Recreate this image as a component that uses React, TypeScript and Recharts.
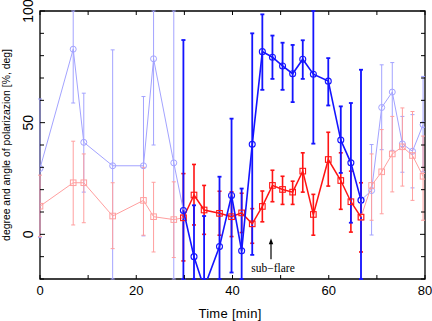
import { ErrorBar, ReferenceArea, ReferenceLine, Scatter, ScatterChart, XAxis, YAxis } from "recharts";

// time of each measurement [min]
const times = [
  0, 6.9, 9.1, 15.1, 21.5, 23.6, 27.8, 29.8, 32.0, 34.1, 37.3, 39.8, 41.9, 44.1, 46.2,
  48.3, 50.4, 52.5, 54.6, 56.8, 59.9, 62.5, 64.6, 66.7, 68.9, 71.0, 73.2, 75.3, 77.4, 79.6,
];

// angle of polarization (blue) [deg]
const blueValues = [
  29.5, 82.9, 41.2, 30.7, 30.7, 78.6, 32, 10.7, -10, -24, -5.5, 17.4, -7.4, 40.3, 81.8,
  79.3, 75.4, 71.9, 78.4, 71.7, 68.6, 42.2, 32, 15.3, 19.6, 56.8, 63.7, 40.5, 37.2, 49.1,
];
const blueLow = [
  -1.5, 58.8, 18.9, -30, -0.7, 40, -30, -30, -30, -30, -30, -17.1, -30, -9.2, 64.7,
  69.6, 64.7, 59.2, 69.6, 40.6, 57.7, 27.5, 5.2, -30, -0.3, 37.9, 37.6, 27.8, 20.8, 28,
];
const blueHigh = [
  60.6, 110, 63.2, 82.6, 61.7, 110, 110, 87, 13, 8.2, 25.8, 51.8, 20.5, 90, 98.5,
  89, 85.8, 84.8, 86.9, 110, 78.9, 57.3, 58.8, 73.7, 40.2, 75.9, 76.9, 52.8, 53.6, 70.7,
];

// degree of polarization (red) [%]
const redValues = [
  12.6, 23.1, 23.1, 8.2, 15.2, 7.9, 6.6, 7.4, 17.6, 10.9, 9.4, 7.9, 9.6, 4.7, 12.5,
  21.9, 20.1, 18.9, 28.3, 8.9, 33.5, 24.1, 14.6, 7.7, 21.9, 28, 36, 39.2, 35.3, 26,
];
const redLow = [
  -1, 4.2, 5.2, -6.4, -0.4, -7.9, -10.4, -11.9, 4.2, 0, -0.4, -1, 0.8, -4, 5.6,
  14.6, 13.4, 13.4, 18.9, -0.4, 21.6, 11.2, 1, -7.9, 6.3, 9.2, 19, 21.6, 15.2, 6.3,
];
const redHigh = [
  26.5, 41.7, 36, 23.1, 30, 23.3, 23.5, 27.2, 31.3, 21.9, 19.3, 19, 18.4, 11.5, 19.4,
  28.7, 26, 23.8, 36.5, 17.9, 45.7, 36.5, 28.3, 23.1, 36, 46.9, 52.8, 56.6, 55, 44,
];

// first and last index of the highlighted interval
const darkFrom = 7;
const darkTo = 23;

const xTicks = [0, 10, 20, 30, 40, 50, 60, 70, 80];
const yTicks = [-20, -10, 0, 10, 20, 30, 40, 50, 60, 70, 80, 90, 100];
const Y_MIN = -20;
const Y_MAX = 100;

const flareTime = 48;
const flareArrow = [-11.2, -1.8];

const PLOT_W = 385;
const PLOT_H = 268;
const FONT = "'Liberation Sans', Arial, sans-serif";

const BLUE = "#1414ff";
const LIGHT_BLUE = "#a3a3ff";
const RED = "#ff1414";
const LIGHT_RED = "#ff9f9f";

interface Pt {
  t: number;
  v: number;
  err: [number, number];
}

// error bars are cut at the frame, like the plot itself
function build(values: number[], low: number[], high: number[], from: number, to: number): Pt[] {
  const out: Pt[] = [];
  for (let i = from; i <= to; i++) {
    const lo = Math.max(low[i], Y_MIN);
    const hi = Math.min(high[i], Y_MAX);
    out.push({ t: times[i], v: values[i], err: [values[i] - lo, hi - values[i]] });
  }
  return out;
}

const last = times.length - 1;
const blueLeft = build(blueValues, blueLow, blueHigh, 0, darkFrom);
const blueMid = build(blueValues, blueLow, blueHigh, darkFrom, darkTo);
const blueRight = build(blueValues, blueLow, blueHigh, darkTo, last);
const redLeft = build(redValues, redLow, redHigh, 0, darkFrom);
const redMid = build(redValues, redLow, redHigh, darkFrom, darkTo);
const redRight = build(redValues, redLow, redHigh, darkTo, last);

const circle = (color: string, sw: number) => (p: any) => (
  <circle cx={p.cx} cy={p.cy} r={3} fill="none" stroke={color} strokeWidth={sw} />
);
const square = (color: string, sw: number) => (p: any) => (
  <rect x={p.cx - 2.8} y={p.cy - 2.8} width={5.6} height={5.6} fill="none" stroke={color} strokeWidth={sw} />
);

function XTick({ x, y, payload }: any) {
  const v = payload.value as number;
  return (
    <g>
      <line x1={x} y1={y} x2={x} y2={y - 4} stroke="#000" />
      <line x1={x} y1={y - PLOT_H} x2={x} y2={y - PLOT_H + 4} stroke="#000" />
      {v % 20 === 0 && (
        <text x={x} y={y + 15.5} textAnchor="middle" fontSize={13} fontFamily={FONT} fill="#000">
          {v}
        </text>
      )}
    </g>
  );
}

function YTick({ x, y, payload }: any) {
  const v = payload.value as number;
  const major = v % 50 === 0;
  const len = major ? 5 : 4;
  return (
    <g>
      <line x1={x} y1={y} x2={x + len} y2={y} stroke="#000" />
      <line x1={x + PLOT_W} y1={y} x2={x + PLOT_W - len} y2={y} stroke="#000" />
      {major && (
        <text
          x={x - 7}
          y={y}
          transform={`rotate(-90 ${x - 7} ${y})`}
          textAnchor="middle"
          fontSize={14}
          fontFamily={FONT}
          fill="#000"
        >
          {v}
        </text>
      )}
    </g>
  );
}

function FlareArrow(p: any) {
  const { x1, y1, x2, y2 } = p;
  return (
    <g>
      <line x1={x1} y1={y1} x2={x2} y2={y2 + 5} stroke="#000" strokeWidth={1.2} />
      <polygon points={`${x2},${y2} ${x2 - 2.2},${y2 + 6} ${x2 + 2.2},${y2 + 6}`} fill="#000" />
      <text
        x={x1 + 2}
        y={y1 + 13}
        textAnchor="middle"
        fontSize={11.5}
        fontFamily="'Liberation Serif', 'Times New Roman', serif"
        fill="#000"
      >
        sub−flare
      </text>
    </g>
  );
}

export default function App() {
  return (
    <div style={{ position: "absolute", left: 0, top: 0, background: "#fff" }}>
      <ScatterChart width={432} height={321} margin={{ top: 11, right: 7, bottom: 0, left: 0 }}>
        <XAxis
          type="number"
          dataKey="t"
          domain={[0, 80]}
          ticks={xTicks}
          interval={0}
          tickSize={0}
          tickMargin={0}
          tickLine={false}
          axisLine={false}
          tick={<XTick />}
          height={42}
          allowDataOverflow
        />
        <YAxis
          type="number"
          dataKey="v"
          domain={[Y_MIN, Y_MAX]}
          ticks={yTicks}
          interval={0}
          tickSize={0}
          tickMargin={0}
          tickLine={false}
          axisLine={false}
          tick={<YTick />}
          width={40}
          allowDataOverflow
        />
        <ReferenceArea x1={0} x2={80} y1={Y_MIN} y2={Y_MAX} fill="none" stroke="#000" strokeWidth={1.3} />

        <Scatter data={blueLeft} line={{ stroke: LIGHT_BLUE, strokeWidth: 1 }} shape={circle(LIGHT_BLUE, 1)} isAnimationActive={false}>
          <ErrorBar dataKey="err" direction="y" width={2} stroke={LIGHT_BLUE} strokeWidth={1} />
        </Scatter>
        <Scatter data={blueRight} line={{ stroke: LIGHT_BLUE, strokeWidth: 1 }} shape={circle(LIGHT_BLUE, 1)} isAnimationActive={false}>
          <ErrorBar dataKey="err" direction="y" width={2} stroke={LIGHT_BLUE} strokeWidth={1} />
        </Scatter>
        <Scatter data={redLeft} line={{ stroke: LIGHT_RED, strokeWidth: 1 }} shape={square(LIGHT_RED, 1)} isAnimationActive={false}>
          <ErrorBar dataKey="err" direction="y" width={2} stroke={LIGHT_RED} strokeWidth={1} />
        </Scatter>
        <Scatter data={redRight} line={{ stroke: LIGHT_RED, strokeWidth: 1 }} shape={square(LIGHT_RED, 1)} isAnimationActive={false}>
          <ErrorBar dataKey="err" direction="y" width={2} stroke={LIGHT_RED} strokeWidth={1} />
        </Scatter>
        <Scatter data={redMid} line={{ stroke: RED, strokeWidth: 1.5 }} shape={square(RED, 1.1)} isAnimationActive={false}>
          <ErrorBar dataKey="err" direction="y" width={2} stroke={RED} strokeWidth={1.6} />
        </Scatter>
        <Scatter data={blueMid} line={{ stroke: BLUE, strokeWidth: 1.6 }} shape={circle(BLUE, 1.1)} isAnimationActive={false}>
          <ErrorBar dataKey="err" direction="y" width={2} stroke={BLUE} strokeWidth={1.8} />
        </Scatter>

        <ReferenceLine
          segment={[
            { x: flareTime, y: flareArrow[0] },
            { x: flareTime, y: flareArrow[1] },
          ]}
          shape={FlareArrow}
        />
      </ScatterChart>
      <svg width={432} height={321} style={{ position: "absolute", left: 0, top: 0, pointerEvents: "none" }}>
        <text
          x={9.5}
          y={145}
          transform="rotate(-90 9.5 145)"
          textAnchor="middle"
          fontSize={10.4}
          fontFamily={FONT}
          fill="#000"
        >
          degree and angle of polarizazion [%, deg]
        </text>
        <text
          x={230}
          y={317.5}
          textAnchor="middle"
          fontSize={13}
          letterSpacing={0.3}
          fontFamily={FONT}
          fill="#000"
        >
          Time [min]
        </text>
      </svg>
    </div>
  );
}
